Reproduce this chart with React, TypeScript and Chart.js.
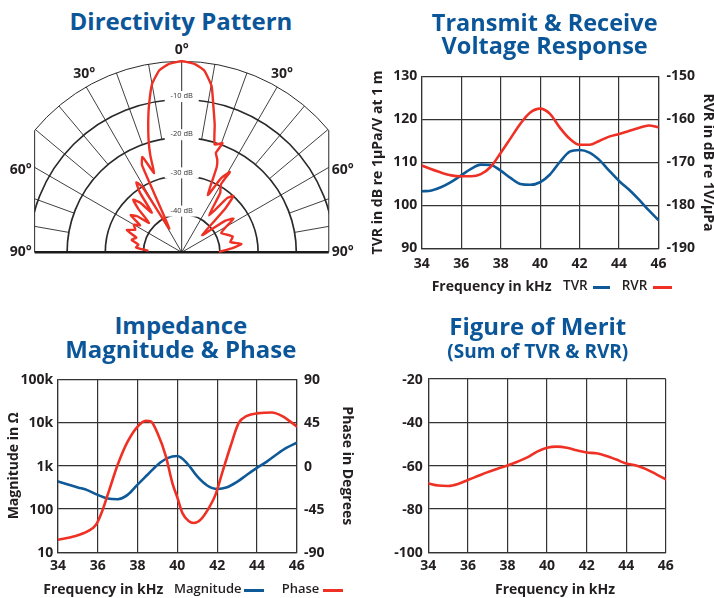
import React, { useEffect, useRef } from 'react';
import { Chart, registerables } from 'chart.js';

Chart.register(...registerables);

// ---------------- shared ----------------
const FONT = "'Open Sans', 'Noto Sans', sans-serif";
const TITLE_BLUE = '#0b5699';
const LINE_BLUE = '#0e5a98';
const LINE_RED = '#ee3124';
const GRID = '#333333';
const TEXT = '#231f20';

const FREQ_TICKS = [34, 36, 38, 40, 42, 44, 46];

// ---------------- directivity pattern ----------------
// angle from the acoustic axis (deg, negative = left side) and level (dB)
const PATTERN_ANGLE = [
  -87, -84, -80, -76, -72, -68, -64, -60, -57, -54, -51, -48, -45, -42.7, -40, -37, -35, -33, -31, -27.5,
  -24.5, -22.5, -21.5, -19.2, -18, -16.5, -14.5, -12.5, -10, -7, -4, 0,
  4, 7, 10.2, 12.2, 14.5, 17, 20.5, 19, 21, 22.4, 24.5, 28, 31, 30, 33, 36.5, 40, 42.5, 45, 50,
  54, 57, 60, 64, 68, 73, 78, 82, 85, 89,
];
const PATTERN_DB = [
  -41, -38, -38.5, -36.5, -37.5, -34.5, -36.5, -35.5, -37, -33.5, -35, -38.5, -34, -31.3, -33, -37, -31, -28.2, -30, -43,
  -25, -23, -24.5, -28, -23.5, -19.5, -15, -10.5, -5.3, -2, -0.6, 0,
  -0.6, -2, -5.8, -10.8, -15.5, -20.5, -19.5, -22.5, -24, -26, -33.5, -28, -25.5, -29.5, -31.5, -38, -31.5, -30, -34, -43,
  -36, -33.8, -36.5, -38.5, -37.5, -36, -37, -34.2, -36.5, -40,
];
const POLAR_CENTER_DB = -50;
const POLAR_RINGS_DB = [0, -10, -20, -30, -40];
const POLAR_RING_LABEL_DB = [-10, -20, -30, -40];
const POLAR_RING_LABELS = ['-10 dB', '-20 dB', '-30 dB', '-40 dB'];
const POLAR_SPOKES_DEG = [10, 20, 30, 40, 50, 60, 70, 80];
const POLAR_FULL_SPOKES_DEG = [30, 60];
const POLAR_SPOKE_START_DB = -20;
const POLAR_SIDE_LIMIT = 38.5;
const POLAR_ANGLE_LABELS = ['0°', '30°', '60°', '90°'];

// ---------------- TVR / RVR ----------------
const FREQ_HALF = [34, 34.5, 35, 35.5, 36, 36.5, 37, 37.5, 38, 38.5, 39, 39.5, 40, 40.5, 41, 41.5, 42, 42.5, 43, 43.5, 44, 44.5, 45, 45.5, 46];
const TVR = [103.3, 103.5, 104.3, 105.5, 107.0, 108.5, 109.5, 109.4, 108.1, 106.4, 105.0, 104.8, 105.4, 107.2, 110.1, 112.5, 112.9, 112.3, 110.6, 108.1, 105.7, 103.7, 101.4, 98.9, 96.6];
const RVR = [-170.7, -171.6, -172.4, -173.0, -173.2, -173.2, -172.7, -171.0, -167.8, -164.4, -161.0, -158.4, -157.5, -158.7, -161.9, -164.5, -165.9, -165.9, -165.0, -164.0, -163.4, -162.7, -162.0, -161.4, -161.8];
const TVR_TICKS = [90, 100, 110, 120, 130];
const RVR_TICKS = [-190, -180, -170, -160, -150];

// ---------------- impedance ----------------
const IMP_MAG = [435, 371, 316, 270, 212, 175, 168, 212, 366, 620, 1047, 1500, 1680, 1120, 566, 350, 290, 318, 423, 620, 890, 1250, 1840, 2610, 3400];
const PHASE_FREQ = [34, 34.83, 35.5, 35.92, 36.17, 36.58, 37, 37.5, 38, 38.42, 38.67, 39, 39.42, 39.75, 40, 40.25, 40.58, 40.83, 41.17, 41.58, 41.92, 42.25, 42.67, 43.08, 43.5, 44.08, 44.75, 45.25, 46];
const PHASE_DEG = [-77, -73.4, -68, -61, -50, -25, 1, 25, 40.8, 46.7, 46, 34, 10, -18, -33, -49, -57.8, -59.6, -56, -44, -30, -7.6, 20, 44.3, 51.9, 54.7, 55.4, 51.9, 41];
const MAG_TICKS = [10, 100, 1000, 10000, 100000];
const MAG_TICK_LABELS = ['10', '100', '1k', '10k', '100k'];
const PHASE_TICKS = [-90, -45, 0, 45, 90];

// ---------------- figure of merit ----------------
const FOM = [-68.2, -69.2, -69.4, -68.5, -66.6, -64.8, -63.0, -61.4, -59.9, -58.2, -56.2, -53.5, -51.7, -51.2, -51.7, -52.9, -53.9, -54.3, -55.5, -57.2, -59.0, -59.9, -61.6, -63.9, -66.3];
const FOM_TICKS = [-100, -80, -60, -40, -20];

// ---------------- helpers ----------------
const tickFont = { family: FONT, size: 14, weight: 'bold' };
const axisTitleFont = { family: FONT, size: 14, weight: 'bold', lineHeight: 1.2 };
const grid = { color: GRID, lineWidth: 1.2, drawTicks: false };
const border = { color: GRID, width: 1.2 };
const setWidth = (w: number) => (s: any) => { s.width = w; };
const setHeight = (h: number) => (s: any) => { s.height = h; };
const fixedTicks = (vals: number[]) => (s: any) => { s.ticks = vals.map((value) => ({ value })); };
const pts = (xs: number[], ys: number[]) => xs.map((x, i) => ({ x, y: ys[i] }));

function freqAxis(height: number, pad: number) {
  return {
    type: 'linear', min: 34, max: 46,
    afterBuildTicks: fixedTicks(FREQ_TICKS), afterFit: setHeight(height),
    ticks: { font: tickFont, color: TEXT, padding: pad, maxRotation: 0, autoSkip: false },
    grid, border,
  };
}

const lineStyle = (color: string) => ({
  borderColor: color, backgroundColor: color, borderWidth: 2.6, pointRadius: 0,
  cubicInterpolationMode: 'monotone', fill: false, borderCapStyle: 'round', borderJoinStyle: 'round',
});

const baseOptions = (padding: any) => ({
  responsive: false, animation: false, events: [],
  layout: { padding },
  plugins: { legend: { display: false }, tooltip: { enabled: false } },
});

// ---------------- polar grid plugin ----------------
const polarGridPlugin = {
  id: 'polarGrid',
  beforeDatasetsDraw(chart: any) {
    const { ctx } = chart;
    const sx = chart.scales.x, sy = chart.scales.y;
    const cx = sx.getPixelForValue(0), cy = sy.getPixelForValue(0);
    const k = sx.getPixelForValue(1) - cx;
    const rad = (db: number) => (db - POLAR_CENTER_DB) * k;
    const R = rad(0);
    const half = POLAR_SIDE_LIMIT * k;
    const seg = (x1: number, y1: number, x2: number, y2: number) => {
      ctx.beginPath(); ctx.moveTo(x1, y1); ctx.lineTo(x2, y2); ctx.stroke();
    };
    ctx.save();
    ctx.strokeStyle = '#2a2a2a';
    ctx.beginPath(); ctx.rect(cx - half, cy - R - 4, 2 * half, R + 4); ctx.clip();
    ctx.lineWidth = 0.9;
    POLAR_SPOKES_DEG.forEach((a) => {
      const t = (a * Math.PI) / 180;
      const r0 = POLAR_FULL_SPOKES_DEG.includes(a) ? 0 : rad(POLAR_SPOKE_START_DB);
      [-1, 1].forEach((s) => seg(cx + s * r0 * Math.sin(t), cy - r0 * Math.cos(t), cx + s * R * Math.sin(t), cy - R * Math.cos(t)));
    });
    POLAR_RINGS_DB.forEach((db) => {
      ctx.lineWidth = db === 0 ? 1 : 1.7;
      ctx.beginPath(); ctx.arc(cx, cy, rad(db), Math.PI, 2 * Math.PI); ctx.stroke();
    });
    ctx.restore();

    ctx.save();
    ctx.strokeStyle = '#2a2a2a';
    ctx.lineWidth = 1;
    const yEdge = cy - Math.sqrt(R * R - half * half);
    seg(cx - half, cy, cx - half, yEdge);
    seg(cx + half, cy, cx + half, yEdge);
    seg(cx, cy, cx, cy - R);
    ctx.font = `7.5px ${FONT}`;
    ctx.textAlign = 'center';
    ctx.textBaseline = 'middle';
    POLAR_RING_LABEL_DB.forEach((db, i) => {
      const y = cy - rad(db) - 3.5;
      ctx.fillStyle = '#ffffff';
      ctx.fillRect(cx - 17, y - 5, 34, 11);
      ctx.fillStyle = '#333333';
      ctx.fillText(POLAR_RING_LABELS[i], cx, y);
    });
    ctx.strokeStyle = '#1a1a1a';
    ctx.lineWidth = 2.6;
    seg(cx - half, cy, cx + half, cy);
    ctx.restore();
  },
  afterDraw(chart: any) {
    const { ctx } = chart;
    const sx = chart.scales.x, sy = chart.scales.y;
    const cx = sx.getPixelForValue(0), cy = sy.getPixelForValue(0);
    const k = sx.getPixelForValue(1) - cx;
    const R = -POLAR_CENTER_DB * k;
    const half = POLAR_SIDE_LIMIT * k;
    ctx.save();
    ctx.font = `bold 14px ${FONT}`;
    ctx.fillStyle = TEXT;
    ctx.textAlign = 'center';
    ctx.textBaseline = 'middle';
    const [l0, l30, l60, l90] = POLAR_ANGLE_LABELS;
    ctx.fillText(l0, cx, cy - R - 11);
    const t30 = (29 * Math.PI) / 180;
    [-1, 1].forEach((s) => {
      ctx.fillText(l30, cx + s * (R + 13) * Math.sin(t30) + 1.5, cy - (R + 13) * Math.cos(t30));
      ctx.fillText(l60, cx + s * (half + 14), cy - half / Math.tan(Math.PI / 3) + 2.5);
      ctx.fillText(l90, cx + s * (half + 14), cy);
    });
    ctx.restore();
  },
};

// ---------------- chart configs ----------------
function makePolar(): any {
  const data = PATTERN_ANGLE.map((a, i) => {
    const r = PATTERN_DB[i] - POLAR_CENTER_DB;
    const t = (a * Math.PI) / 180;
    return { x: r * Math.sin(t), y: r * Math.cos(t) };
  });
  return {
    type: 'scatter',
    data: { datasets: [{ data, showLine: true, ...lineStyle(LINE_RED), borderWidth: 2.4, cubicInterpolationMode: 'default', tension: 0.15 }] },
    options: {
      ...baseOptions({ left: 2.16, right: 2.76, top: 13.66, bottom: 10.06 }),
      scales: {
        x: { type: 'linear', display: false, min: -47, max: 47 },
        y: { type: 'linear', display: false, min: -2, max: 52 },
      },
    },
    plugins: [polarGridPlugin],
  };
}

function makeTvr(): any {
  return {
    type: 'line',
    data: {
      datasets: [
        { label: 'RVR', data: pts(FREQ_HALF, RVR), yAxisID: 'y1', ...lineStyle(LINE_RED) },
        { label: 'TVR', data: pts(FREQ_HALF, TVR), yAxisID: 'y', ...lineStyle(LINE_BLUE) },
      ],
    },
    options: {
      ...baseOptions({ left: 0, right: 0, top: 15.3, bottom: 0 }),
      scales: {
        x: freqAxis(51.5, 7),
        y: {
          type: 'linear', position: 'left', min: 90, max: 130,
          afterBuildTicks: fixedTicks(TVR_TICKS), afterFit: setWidth(61.7),
          ticks: { font: tickFont, color: TEXT, padding: 4.4 }, grid, border,
          title: { display: true, text: 'TVR in dB re 1µPa/V at 1 m', font: axisTitleFont, color: TEXT, padding: { top: 9.9, bottom: 0 } },
        },
        y1: {
          type: 'linear', position: 'right', min: -190, max: -150,
          afterBuildTicks: fixedTicks(RVR_TICKS), afterFit: setWidth(55.5),
          ticks: { font: tickFont, color: TEXT, padding: 8 }, grid: { display: false, drawTicks: false }, border,
          title: { display: true, text: 'RVR in dB re 1V/µPa', font: { ...axisTitleFont, lineHeight: 0.8 }, color: TEXT, padding: { top: 0, bottom: 0 } },
        },
      },
    },
  };
}

function makeImpedance(): any {
  return {
    type: 'line',
    data: {
      datasets: [
        { label: 'Phase', data: pts(PHASE_FREQ, PHASE_DEG), yAxisID: 'y1', ...lineStyle(LINE_RED) },
        { label: 'Magnitude', data: pts(FREQ_HALF, IMP_MAG), yAxisID: 'y', ...lineStyle(LINE_BLUE) },
      ],
    },
    options: {
      ...baseOptions({ left: 0, right: 0, top: 19.2, bottom: 0 }),
      scales: {
        x: freqAxis(45.7, 5),
        y: {
          type: 'logarithmic', position: 'left', min: 10, max: 100000,
          afterBuildTicks: fixedTicks(MAG_TICKS), afterFit: setWidth(58),
          ticks: { font: tickFont, color: TEXT, padding: 4.7, labelOffset: 1, callback: (v: number) => MAG_TICK_LABELS[MAG_TICKS.indexOf(v)] },
          grid, border,
          title: { display: true, text: 'Magnitude in Ω', font: axisTitleFont, color: TEXT, padding: { top: 5.6, bottom: 0 } },
        },
        y1: {
          type: 'linear', position: 'right', min: -90, max: 90,
          afterBuildTicks: fixedTicks(PHASE_TICKS), afterFit: setWidth(63.3),
          ticks: { font: tickFont, color: TEXT, padding: 7.3, labelOffset: 1 }, grid: { display: false, drawTicks: false }, border,
          title: { display: true, text: 'Phase in Degrees', font: axisTitleFont, color: TEXT, padding: { top: 4.9, bottom: 0 } },
        },
      },
    },
  };
}

function makeFom(): any {
  return {
    type: 'line',
    data: { datasets: [{ label: 'Figure of Merit', data: pts(FREQ_HALF, FOM), ...lineStyle(LINE_RED) }] },
    options: {
      ...baseOptions({ left: 0, right: 48.2, top: 19, bottom: 0 }),
      scales: {
        x: freqAxis(45.7, 5),
        y: {
          type: 'linear', position: 'left', min: -100, max: -20,
          afterBuildTicks: fixedTicks(FOM_TICKS), afterFit: setWidth(68.3),
          ticks: { font: tickFont, color: TEXT, padding: 5.5, labelOffset: 1 }, grid, border,
        },
      },
    },
  };
}

// ---------------- components ----------------
function ChartBox({ make, left, top, width, height }: { make: () => any; left: number; top: number; width: number; height: number }) {
  const ref = useRef<HTMLCanvasElement | null>(null);
  useEffect(() => {
    const chart = new Chart(ref.current as HTMLCanvasElement, make());
    return () => chart.destroy();
  }, [make]);
  return <canvas ref={ref} width={width} height={height} style={{ position: 'absolute', left, top, width, height }} />;
}

function Title({ cx, baseline, size, children }: { cx: number; baseline: number; size: number; children: React.ReactNode }) {
  return (
    <div style={{
      position: 'absolute', left: cx - 200, width: 400, top: baseline - 0.888 * size,
      fontSize: size, lineHeight: `${size}px`, fontWeight: 700, color: TITLE_BLUE,
      textAlign: 'center', whiteSpace: 'nowrap', fontFamily: FONT,
    }}>{children}</div>
  );
}

function Word({ left, baseline, weight = 700, size = 14, children }: { left: number; baseline: number; weight?: number; size?: number; children: React.ReactNode }) {
  return (
    <div style={{
      position: 'absolute', left, top: baseline - 0.888 * size, fontSize: size, lineHeight: `${size}px`,
      fontWeight: weight, color: TEXT, whiteSpace: 'nowrap', fontFamily: FONT,
    }}>{children}</div>
  );
}

function Mark({ color, x1, x2, y }: { color: string; x1: number; x2: number; y: number }) {
  return <div style={{ position: 'absolute', left: x1, top: y - 1.25, width: x2 - x1, height: 2.5, background: color }} />;
}

export default function App() {
  return (
    <div style={{ position: 'fixed', left: 0, top: 0, width: 714, height: 598, background: '#ffffff', overflow: 'hidden', fontFamily: FONT }}>
      <ChartBox make={makePolar} left={0} top={40} width={364} height={230} />
      <ChartBox make={makeTvr} left={360} top={60} width={354} height={240} />
      <ChartBox make={makeImpedance} left={0} top={360} width={360} height={238} />
      <ChartBox make={makeFom} left={360} top={360} width={354} height={238} />

      <Title cx={181} baseline={30} size={24}>Directivity Pattern</Title>
      <Title cx={544.7} baseline={31.7} size={23.5}>Transmit &amp; Receive</Title>
      <Title cx={544.7} baseline={55} size={23.5}>Voltage Response</Title>
      <Title cx={180.8} baseline={334.3} size={24}>Impedance</Title>
      <Title cx={180.8} baseline={358.3} size={24}>Magnitude &amp; Phase</Title>
      <Title cx={537.8} baseline={335} size={24}>Figure of Merit</Title>
      <Title cx={537.8} baseline={359.3} size={19}>(Sum of TVR &amp; RVR)</Title>

      <Word left={431.7} baseline={291}>Frequency in kHz</Word>
      <Word left={563} baseline={291} weight={600} size={13.5}>TVR</Word>
      <Mark color={LINE_BLUE} x1={593} x2={610} y={287.3} />
      <Word left={621.7} baseline={291} weight={600} size={13.5}>RVR</Word>
      <Mark color={LINE_RED} x1={653} x2={671.7} y={287.3} />

      <Word left={43.3} baseline={594}>Frequency in kHz</Word>
      <Word left={174} baseline={594} weight={600} size={13}>Magnitude</Word>
      <Mark color={LINE_BLUE} x1={244} x2={264} y={590.3} />
      <Word left={281.7} baseline={594} weight={600} size={13}>Phase</Word>
      <Mark color={LINE_RED} x1={322.5} x2={343.3} y={590.3} />

      <Word left={495} baseline={594}>Frequency in kHz</Word>
    </div>
  );
}
